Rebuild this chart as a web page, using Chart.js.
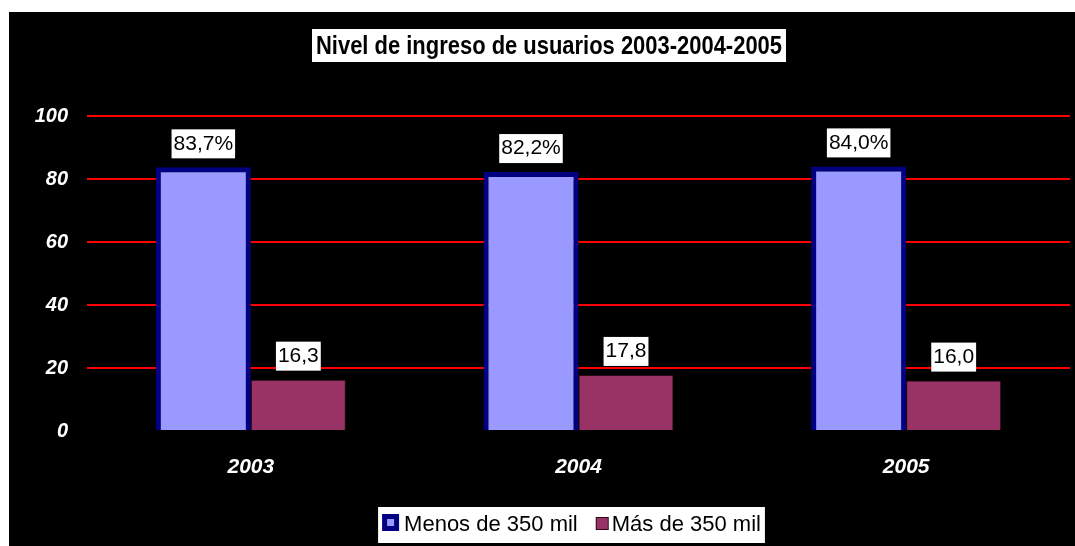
<!DOCTYPE html>
<html>
<head>
<meta charset="utf-8">
<script src="https://cdn.jsdelivr.net/npm/chart.js@4.4.1/dist/chart.umd.min.js"></script>
<style>
  html, body { margin: 0; padding: 0; background: #fff; }
  #wrap { width: 1075px; height: 546px; position: relative; }
</style>
</head>
<body>
<div id="wrap"><canvas id="ingresoChart"></canvas></div>
<script>
// --- DATA ---
const years = ['2003', '2004', '2005'];
const menos350 = [83.7, 82.2, 84.0];
const mas350 = [16.3, 17.8, 16.0];
const seriesNames = ['Menos de 350 mil', 'Más de 350 mil'];
const chartTitle = 'Nivel de ingreso de usuarios 2003-2004-2005';

const ARIAL = "'Liberation Sans', Arial, sans-serif";

// black panel, white title box and custom legend
const panelPlugin = {
    id: 'panel',
    beforeDraw(chart) {
        const ctx = chart.ctx;
        ctx.save();
        ctx.fillStyle = '#000';
        ctx.fillRect(9, 12, chart.width - 9, chart.height - 12);
        ctx.restore();
    },
    afterDraw(chart) {
        const ctx = chart.ctx;
        ctx.save();
        // title: bold face squeezed horizontally to a narrow look
        const cx = 549;
        const targetW = 466;
        ctx.fillStyle = '#fff';
        ctx.fillRect(cx - targetW / 2 - 4, 29, targetW + 8, 33);
        ctx.font = 'bold 25px ' + ARIAL;
        const tw = ctx.measureText(chartTitle).width;
        const sx = targetW / tw;
        ctx.translate(cx, 46);
        ctx.scale(sx, 1);
        ctx.fillStyle = '#000';
        ctx.textAlign = 'center';
        ctx.textBaseline = 'middle';
        ctx.fillText(chartTitle, 0, 1);
        ctx.restore();

        ctx.save();
        // legend
        ctx.font = '22px ' + ARIAL;
        const w1 = ctx.measureText(seriesNames[0]).width;
        const w2 = ctx.measureText(seriesNames[1]).width;
        const total = 4 + 17 + 5 + w1 + 18 + 13 + 3 + w2 + 4;
        const lx = 571.5 - total / 2;
        ctx.fillStyle = '#fff';
        ctx.fillRect(lx, 507, total, 36);
        let x = lx + 4;
        // marker 1
        ctx.fillStyle = '#000080';
        ctx.fillRect(x, 514, 17, 17);
        ctx.fillStyle = '#9999FF';
        ctx.fillRect(x + 5, 519, 7, 7);
        x += 17 + 5;
        ctx.fillStyle = '#000';
        ctx.textAlign = 'left';
        ctx.textBaseline = 'middle';
        ctx.fillText(seriesNames[0], x, 525);
        x += w1 + 18;
        // marker 2
        ctx.fillStyle = '#2a0a18';
        ctx.fillRect(x, 517, 13, 13);
        ctx.fillStyle = '#993366';
        ctx.fillRect(x + 1, 518, 11, 11);
        x += 13 + 3;
        ctx.fillStyle = '#000';
        ctx.fillText(seriesNames[1], x, 525);
        ctx.restore();
    }
};

// value labels in white boxes above the bars
const valueLabels = {
    id: 'valueLabels',
    afterDatasetsDraw(chart) {
        const ctx = chart.ctx;
        ctx.save();
        ctx.font = '21px ' + ARIAL;
        ctx.textAlign = 'center';
        ctx.textBaseline = 'middle';
        chart.data.datasets.forEach((ds, di) => {
            chart.getDatasetMeta(di).data.forEach((bar, i) => {
                let txt = ds.data[i].toFixed(1).replace('.', ',');
                if (di === 0) txt += '%';
                const w = ctx.measureText(txt).width;
                const yMid = bar.y - 23.5;
                ctx.fillStyle = '#fff';
                ctx.fillRect(bar.x - w / 2 - 2, yMid - 14.5, w + 4, 29);
                ctx.fillStyle = '#000';
                ctx.fillText(txt, bar.x, yMid);
            });
        });
        ctx.restore();
    }
};

const ctx1 = document.getElementById('ingresoChart').getContext('2d');
new Chart(ctx1, {
    type: 'bar',
    data: {
        labels: years,
        datasets: [
            {
                label: seriesNames[0],
                data: menos350,
                backgroundColor: '#9999FF',
                borderColor: '#000080',
                borderWidth: 5
            },
            {
                label: seriesNames[1],
                data: mas350,
                backgroundColor: '#993366',
                borderColor: '#2a0a18',
                borderWidth: 1
            }
        ]
    },
    options: {
        responsive: true,
        maintainAspectRatio: false,
        animation: false,
        datasets: { bar: { categoryPercentage: 0.58, barPercentage: 1.0 } },
        layout: { padding: { top: 116, right: 5, bottom: 0, left: 0 } },
        plugins: {
            legend: { display: false },
            title: { display: false },
            tooltip: { enabled: false }
        },
        scales: {
            x: {
                grid: { display: false },
                border: { display: false },
                ticks: {
                    color: '#fff',
                    padding: 16,
                    font: { family: ARIAL, size: 21, weight: 'bold', style: 'italic' }
                },
                afterFit(scale) { scale.height = 115; }
            },
            y: {
                min: 0,
                max: 100,
                ticks: {
                    stepSize: 20,
                    color: '#fff',
                    padding: 19,
                    font: { family: ARIAL, size: 20, weight: 'bold', style: 'italic' }
                },
                grid: {
                    color: c => c.tick.value === 0 ? 'rgba(0,0,0,0)' : '#FF0000',
                    lineWidth: 2,
                    drawTicks: false
                },
                border: { display: false },
                afterFit(scale) { scale.width = 87; }
            }
        }
    },
    plugins: [panelPlugin, valueLabels]
});
</script>
</body>
</html>
